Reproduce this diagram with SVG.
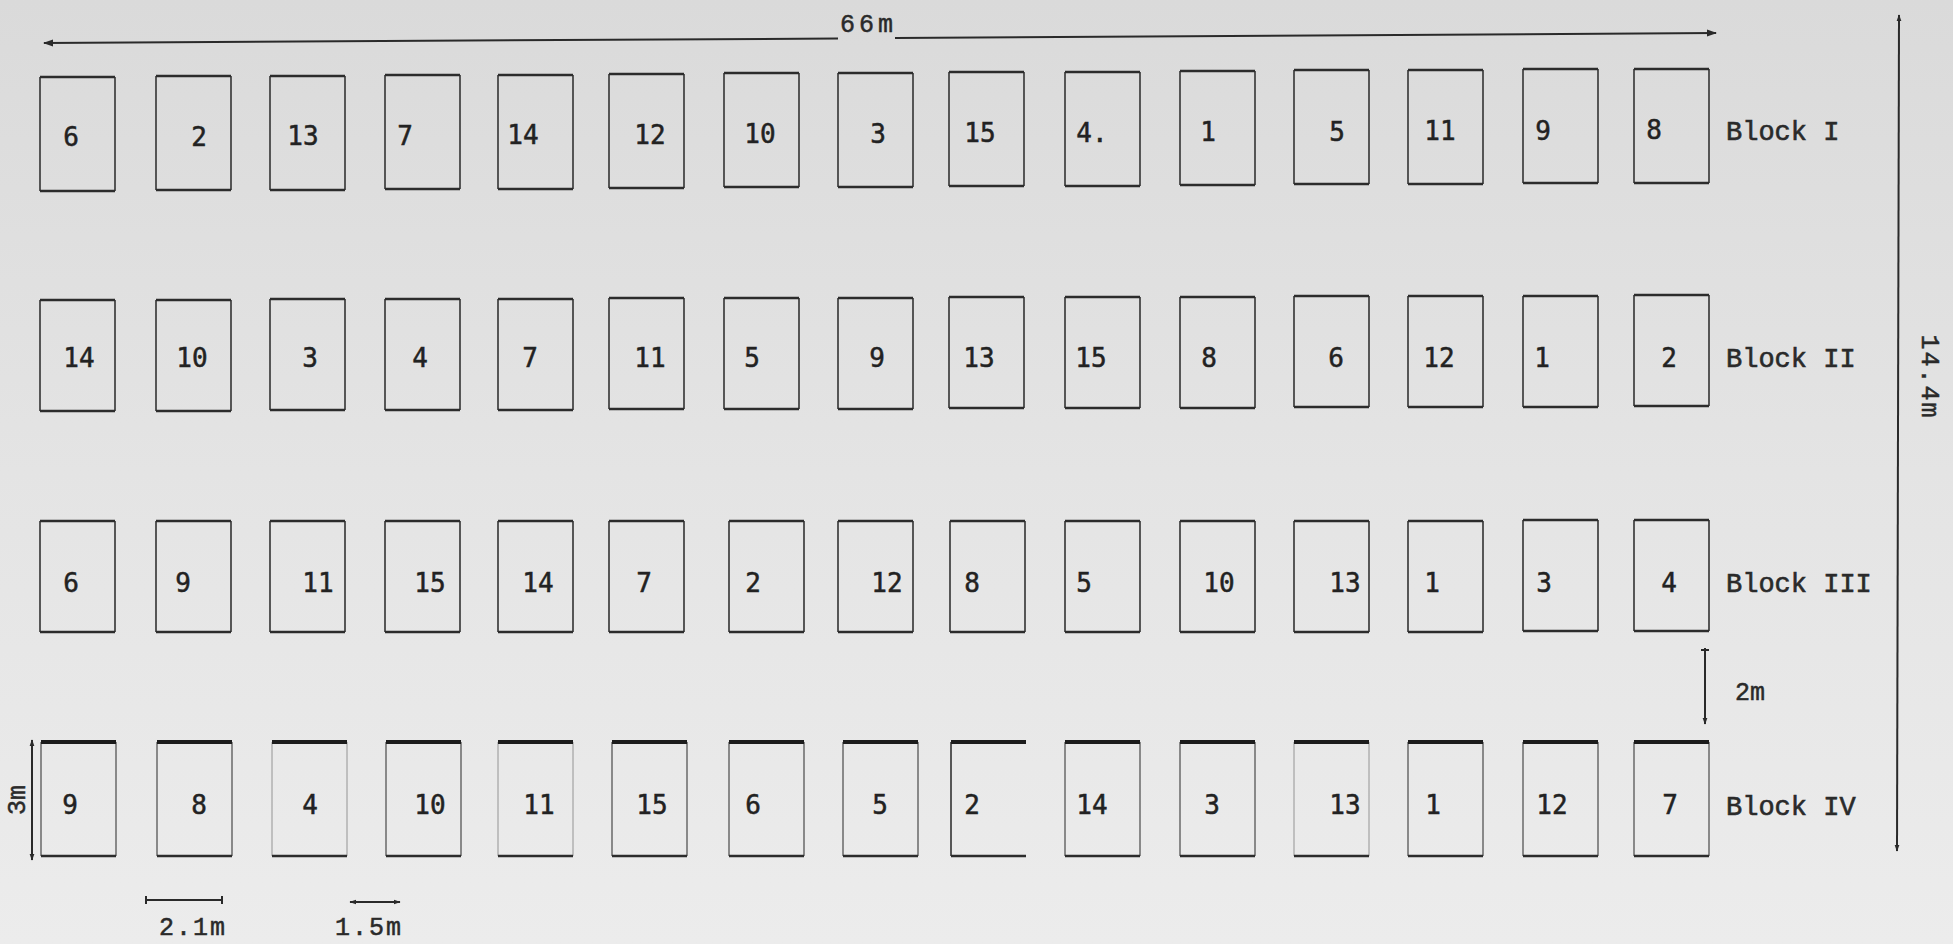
<svg xmlns="http://www.w3.org/2000/svg" xmlns:xlink="http://www.w3.org/1999/xlink" width="1953" height="944" viewBox="0 0 1953 944">
<defs>
<linearGradient id="bg" x1="0" y1="0" x2="0" y2="1">
<stop offset="0" stop-color="#dadada"/>
<stop offset="0.5" stop-color="#e4e4e4"/>
<stop offset="1" stop-color="#ececec"/>
</linearGradient>
<marker id="ah" viewBox="0 0 10 10" refX="9" refY="5" markerWidth="10" markerHeight="10" markerUnits="userSpaceOnUse" orient="auto-start-reverse">
<path d="M0,1.5 L10,5 L0,8.5 z" fill="#2a2a2a"/>
</marker>
<marker id="ahs" viewBox="0 0 10 10" refX="9" refY="5" markerWidth="7" markerHeight="7" markerUnits="userSpaceOnUse" orient="auto-start-reverse">
<path d="M0,1.5 L10,5 L0,8.5 z" fill="#2a2a2a"/>
</marker>
<style>
.tb{stroke:#2c2c2c;stroke-width:2.6;fill:none}
.tbk{stroke:#1c1c1c;stroke-width:4;fill:none}
.sd{stroke:#474747;stroke-width:1.8;fill:none}
.sdl{stroke:#6a6a6a;stroke-width:1.5;fill:none}
.sdf{stroke:#a8a8a8;stroke-width:1.3;fill:none}
.n{font-family:"DejaVu Sans Mono","Liberation Mono",monospace;font-size:26px;fill:#222;stroke:#222;stroke-width:0.5;text-anchor:middle}
.lb{font-family:"Liberation Mono","Courier New",monospace;font-size:27px;fill:#2a2a2a;stroke:#2a2a2a;stroke-width:0.6}
.dm{font-family:"Liberation Mono","Courier New",monospace;font-size:25px;fill:#2a2a2a;stroke:#2a2a2a;stroke-width:0.5}
.dl{stroke:#2a2a2a;stroke-width:2;fill:none}
</style>
<g id="r1"><path class="sd" d="M0,0V114M75,0V114"/><path class="tb" d="M0,0H75M0,114H75"/></g>
<g id="r2"><path class="sd" d="M0,0V111M75,0V111"/><path class="tb" d="M0,0H75M0,111H75"/></g>
<g id="r4"><path class="sdl" d="M0,0V114M75,0V114"/><path class="tbk" d="M0,0H75"/><path class="tb" d="M0,114H75"/></g>
<g id="r4f"><path class="sdf" d="M0,0V114M75,0V114"/><path class="tbk" d="M0,0H75"/><path class="tb" d="M0,114H75"/></g>
<g id="r4n"><path class="sd" d="M0,0V114"/><path class="tbk" d="M0,0H75"/><path class="tb" d="M0,114H75"/></g>
</defs>
<rect x="0" y="0" width="1953" height="944" fill="url(#bg)"/>

<g id="connectors">
<path class="dl" d="M44,43 L838,38.5" marker-start="url(#ah)"/>
<path class="dl" d="M895,38 L1716,33" marker-end="url(#ah)"/>
<path class="dl" d="M1899,15 L1897,851" marker-start="url(#ahs)" marker-end="url(#ahs)"/>
<path class="dl" d="M1705,648 L1705,724" marker-end="url(#ahs)"/>
<path class="dl" d="M1701,650 H1709"/>
<path class="dl" d="M32,740 L32,860" marker-start="url(#ahs)" marker-end="url(#ahs)"/>
<path class="dl" d="M146,900 H222 M146,896 V904 M222,896 V904"/>
<path class="dl" d="M350,902 H400" marker-start="url(#ahs)" marker-end="url(#ahs)"/>
</g>

<g id="dimension-labels">
<text class="dm" x="840" y="32" letter-spacing="4">66m</text>
<text class="dm" x="1922" y="377" text-anchor="middle" letter-spacing="2" transform="rotate(90 1922 377)">14.4m</text>
<text class="dm" x="1735" y="700">2m</text>
<text class="dm" x="25" y="800" text-anchor="middle" transform="rotate(-90 25 800)">3m</text>
<text class="dm" x="193" y="935" text-anchor="middle" letter-spacing="2" font-size="24">2.1m</text>
<text class="dm" x="369" y="935" text-anchor="middle" letter-spacing="2" font-size="24">1.5m</text>
</g>

<g id="block-labels">
<text class="lb" x="1726" y="140">Block I</text>
<text class="lb" x="1726" y="367">Block II</text>
<text class="lb" x="1726" y="592">Block III</text>
<text class="lb" x="1726" y="815">Block IV</text>
</g>

<g id="block1">
<g id="b1-1"><use href="#r1" x="40" y="77"/><text class="n" x="71" y="146">6</text></g>
<g id="b1-2"><use href="#r1" x="156" y="76"/><text class="n" x="199" y="146">2</text></g>
<g id="b1-3"><use href="#r1" x="270" y="76"/><text class="n" x="303" y="145">13</text></g>
<g id="b1-4"><use href="#r1" x="385" y="75"/><text class="n" x="405" y="145">7</text></g>
<g id="b1-5"><use href="#r1" x="498" y="75"/><text class="n" x="523" y="144">14</text></g>
<g id="b1-6"><use href="#r1" x="609" y="74"/><text class="n" x="650" y="144">12</text></g>
<g id="b1-7"><use href="#r1" x="724" y="73"/><text class="n" x="760" y="143">10</text></g>
<g id="b1-8"><use href="#r1" x="838" y="73"/><text class="n" x="878" y="143">3</text></g>
<g id="b1-9"><use href="#r1" x="949" y="72"/><text class="n" x="980" y="142">15</text></g>
<g id="b1-10"><use href="#r1" x="1065" y="72"/><text class="n" x="1092" y="142" text-anchor="start">4.</text></g>
<g id="b1-11"><use href="#r1" x="1180" y="71"/><text class="n" x="1208" y="141">1</text></g>
<g id="b1-12"><use href="#r1" x="1294" y="70"/><text class="n" x="1337" y="141">5</text></g>
<g id="b1-13"><use href="#r1" x="1408" y="70"/><text class="n" x="1440" y="140">11</text></g>
<g id="b1-14"><use href="#r1" x="1523" y="69"/><text class="n" x="1543" y="140">9</text></g>
<g id="b1-15"><use href="#r1" x="1634" y="69"/><text class="n" x="1654" y="139">8</text></g>
</g>

<g id="block2">
<g id="b2-1"><use href="#r2" x="40" y="300"/><text class="n" x="79" y="367">14</text></g>
<g id="b2-2"><use href="#r2" x="156" y="300"/><text class="n" x="192" y="367">10</text></g>
<g id="b2-3"><use href="#r2" x="270" y="299"/><text class="n" x="310" y="367">3</text></g>
<g id="b2-4"><use href="#r2" x="385" y="299"/><text class="n" x="420" y="367">4</text></g>
<g id="b2-5"><use href="#r2" x="498" y="299"/><text class="n" x="530" y="367">7</text></g>
<g id="b2-6"><use href="#r2" x="609" y="298"/><text class="n" x="650" y="367">11</text></g>
<g id="b2-7"><use href="#r2" x="724" y="298"/><text class="n" x="752" y="367">5</text></g>
<g id="b2-8"><use href="#r2" x="838" y="298"/><text class="n" x="877" y="367">9</text></g>
<g id="b2-9"><use href="#r2" x="949" y="297"/><text class="n" x="979" y="367">13</text></g>
<g id="b2-10"><use href="#r2" x="1065" y="297"/><text class="n" x="1091" y="367">15</text></g>
<g id="b2-11"><use href="#r2" x="1180" y="297"/><text class="n" x="1209" y="367">8</text></g>
<g id="b2-12"><use href="#r2" x="1294" y="296"/><text class="n" x="1336" y="367">6</text></g>
<g id="b2-13"><use href="#r2" x="1408" y="296"/><text class="n" x="1439" y="367">12</text></g>
<g id="b2-14"><use href="#r2" x="1523" y="296"/><text class="n" x="1542" y="367">1</text></g>
<g id="b2-15"><use href="#r2" x="1634" y="295"/><text class="n" x="1669" y="367">2</text></g>
</g>

<g id="block3">
<g id="b3-1"><use href="#r2" x="40" y="521"/><text class="n" x="71" y="592">6</text></g>
<g id="b3-2"><use href="#r2" x="156" y="521"/><text class="n" x="183" y="592">9</text></g>
<g id="b3-3"><use href="#r2" x="270" y="521"/><text class="n" x="318" y="592">11</text></g>
<g id="b3-4"><use href="#r2" x="385" y="521"/><text class="n" x="430" y="592">15</text></g>
<g id="b3-5"><use href="#r2" x="498" y="521"/><text class="n" x="538" y="592">14</text></g>
<g id="b3-6"><use href="#r2" x="609" y="521"/><text class="n" x="644" y="592">7</text></g>
<g id="b3-7"><use href="#r2" x="729" y="521"/><text class="n" x="753" y="592">2</text></g>
<g id="b3-8"><use href="#r2" x="838" y="521"/><text class="n" x="887" y="592">12</text></g>
<g id="b3-9"><use href="#r2" x="950" y="521"/><text class="n" x="972" y="592">8</text></g>
<g id="b3-10"><use href="#r2" x="1065" y="521"/><text class="n" x="1084" y="592">5</text></g>
<g id="b3-11"><use href="#r2" x="1180" y="521"/><text class="n" x="1219" y="592">10</text></g>
<g id="b3-12"><use href="#r2" x="1294" y="521"/><text class="n" x="1345" y="592">13</text></g>
<g id="b3-13"><use href="#r2" x="1408" y="521"/><text class="n" x="1432" y="592">1</text></g>
<g id="b3-14"><use href="#r2" x="1523" y="520"/><text class="n" x="1544" y="592">3</text></g>
<g id="b3-15"><use href="#r2" x="1634" y="520"/><text class="n" x="1669" y="592">4</text></g>
</g>

<g id="block4">
<g id="b4-1"><use href="#r4" x="41" y="742"/><text class="n" x="70" y="814">9</text></g>
<g id="b4-2"><use href="#r4" x="157" y="742"/><text class="n" x="199" y="814">8</text></g>
<g id="b4-3"><use href="#r4f" x="272" y="742"/><text class="n" x="310" y="814">4</text></g>
<g id="b4-4"><use href="#r4" x="386" y="742"/><text class="n" x="430" y="814">10</text></g>
<g id="b4-5"><use href="#r4f" x="498" y="742"/><text class="n" x="539" y="814">11</text></g>
<g id="b4-6"><use href="#r4" x="612" y="742"/><text class="n" x="652" y="814">15</text></g>
<g id="b4-7"><use href="#r4" x="729" y="742"/><text class="n" x="753" y="814">6</text></g>
<g id="b4-8"><use href="#r4" x="843" y="742"/><text class="n" x="880" y="814">5</text></g>
<g id="b4-9"><use href="#r4n" x="951" y="742"/><text class="n" x="972" y="814">2</text></g>
<g id="b4-10"><use href="#r4" x="1065" y="742"/><text class="n" x="1092" y="814">14</text></g>
<g id="b4-11"><use href="#r4" x="1180" y="742"/><text class="n" x="1212" y="814">3</text></g>
<g id="b4-12"><use href="#r4f" x="1294" y="742"/><text class="n" x="1345" y="814">13</text></g>
<g id="b4-13"><use href="#r4" x="1408" y="742"/><text class="n" x="1433" y="814">1</text></g>
<g id="b4-14"><use href="#r4" x="1523" y="742"/><text class="n" x="1552" y="814">12</text></g>
<g id="b4-15"><use href="#r4" x="1634" y="742"/><text class="n" x="1670" y="814">7</text></g>
</g>
</svg>
